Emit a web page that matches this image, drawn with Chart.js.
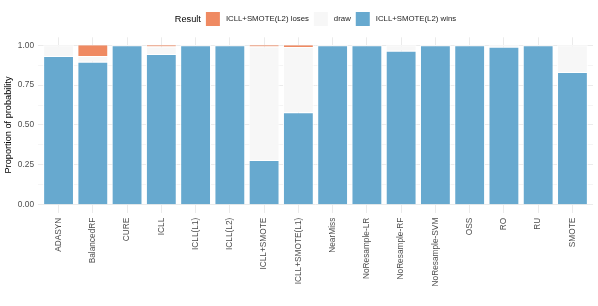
<!DOCTYPE html>
<html>
<head>
<meta charset="utf-8">
<script src="https://cdn.jsdelivr.net/npm/chart.js@4/dist/chart.umd.min.js"></script>
<style>
  html, body { margin: 0; padding: 0; background: #fff; }
  #wrap { width: 598px; height: 306px; }
</style>
</head>
<body>
<div id="wrap"><canvas id="chart" width="598" height="306"></canvas></div>
<script>
// Valores
const categories = ['ADASYN', 'BalancedRF', 'CURE', 'ICLL', 'ICLL(L1)', 'ICLL(L2)', 'ICLL+SMOTE',
  'ICLL+SMOTE(L1)', 'NearMiss', 'NoResample-LR', 'NoResample-RF', 'NoResample-SVM', 'OSS', 'RO', 'RU', 'SMOTE'];
const winsValues  = [0.933, 0.897, 1, 0.945, 1, 1, 0.280, 0.580, 1, 1, 0.966, 1, 1, 0.990, 1, 0.833];
const drawValues  = [0.067, 0.036, 0, 0.047, 0, 0, 0.712, 0.409, 0, 0, 0.034, 0, 0, 0.010, 0, 0.167];
const losesValues = [0, 0.067, 0, 0.008, 0, 0, 0.008, 0.011, 0, 0, 0, 0, 0, 0, 0, 0];
const yTicks = [0, 0.125, 0.25, 0.375, 0.5, 0.625, 0.75, 0.875, 1];

const FONT = '"Liberation Sans", Arial, sans-serif';
const COLORS = { loses: '#EF8A62', draw: '#F7F7F7', wins: '#67A9CF' };

function toPoints(values) {
    return values.map((v, i) => ({ x: i, y: v }));
}

function isMajor(v) {
    return Math.abs(v * 4 - Math.round(v * 4)) < 1e-6;
}

// Legenda no topo, estilo ggplot
const topLegend = {
    id: 'topLegend',
    afterDraw(chart) {
        const ctx = chart.ctx;
        const items = [
            { label: 'ICLL+SMOTE(L2) loses', color: COLORS.loses },
            { label: 'draw', color: COLORS.draw },
            { label: 'ICLL+SMOTE(L2) wins', color: COLORS.wins }
        ];
        const box = 14, cy = 19;
        ctx.save();
        ctx.textBaseline = 'middle';
        ctx.font = '9.2px ' + FONT;
        const titleW = ctx.measureText('Result').width;
        ctx.font = '7.8px ' + FONT;
        let total = titleW + 5;
        items.forEach((it, i) => {
            total += box + 6 + ctx.measureText(it.label).width + (i < items.length - 1 ? 5 : 0);
        });
        const area = chart.chartArea;
        let x = (area.left + area.right) / 2 - total / 2;
        ctx.fillStyle = '#000';
        ctx.font = '9.2px ' + FONT;
        ctx.fillText('Result', x, cy);
        x += titleW + 5;
        ctx.font = '7.8px ' + FONT;
        items.forEach(it => {
            ctx.fillStyle = it.color;
            ctx.fillRect(x, cy - box / 2, box, box);
            x += box + 6;
            ctx.fillStyle = '#1A1A1A';
            ctx.fillText(it.label, x, cy);
            x += ctx.measureText(it.label).width + 5;
        });
        ctx.restore();
    }
};

const barStyle = { borderColor: '#FFFFFF', borderWidth: 1, barPercentage: 0.9, categoryPercentage: 1 };

new Chart(document.getElementById('chart'), {
    type: 'bar',
    data: {
        datasets: [
            { label: 'ICLL+SMOTE(L2) wins', data: toPoints(winsValues), backgroundColor: COLORS.wins, ...barStyle },
            { label: 'draw', data: toPoints(drawValues), backgroundColor: COLORS.draw, ...barStyle },
            {
                label: 'ICLL+SMOTE(L2) loses', data: toPoints(losesValues), backgroundColor: COLORS.loses, ...barStyle,
                // sem borda no topo, senão as fatias finas somem
                borderWidth: { top: 0, bottom: 0, left: 1, right: 1 }
            }
        ]
    },
    plugins: [topLegend],
    options: {
        responsive: false,
        animation: false,
        layout: { padding: { top: 37.3, right: 5, left: 0, bottom: 0 } },
        plugins: { legend: { display: false }, tooltip: { enabled: false } },
        scales: {
            x: {
                type: 'linear',
                stacked: true,
                offset: false,
                min: -0.6,
                max: categories.length - 1 + 0.6,
                afterBuildTicks: scale => { scale.ticks = categories.map((_, i) => ({ value: i })); },
                afterFit: scale => { scale.height = 306 - 212.7; },
                border: { display: false },
                grid: { color: '#EBEBEB', lineWidth: 1, drawTicks: false, offset: false },
                ticks: {
                    autoSkip: false,
                    maxRotation: 90,
                    minRotation: 90,
                    padding: 5,
                    color: '#4D4D4D',
                    font: { family: FONT, size: 8.3 },
                    callback: v => categories[v]
                }
            },
            y: {
                stacked: true,
                min: -0.05,
                max: 1.05,
                afterBuildTicks: scale => { scale.ticks = yTicks.map(v => ({ value: v })); },
                afterFit: scale => { scale.width = 38; },
                border: { display: false },
                grid: {
                    drawTicks: false,
                    color: '#EBEBEB',
                    lineWidth: c => (c.tick && isMajor(c.tick.value) ? 1 : 0.5)
                },
                ticks: {
                    padding: 4,
                    color: '#4D4D4D',
                    font: { family: FONT, size: 8.3 },
                    callback: v => (isMajor(v) ? v.toFixed(2) : '')
                },
                title: {
                    display: true,
                    text: 'Proportion of probability',
                    color: '#000',
                    font: { family: FONT, size: 9.2 },
                    padding: { top: 3, bottom: 0 }
                }
            }
        }
    }
});
</script>
</body>
</html>
